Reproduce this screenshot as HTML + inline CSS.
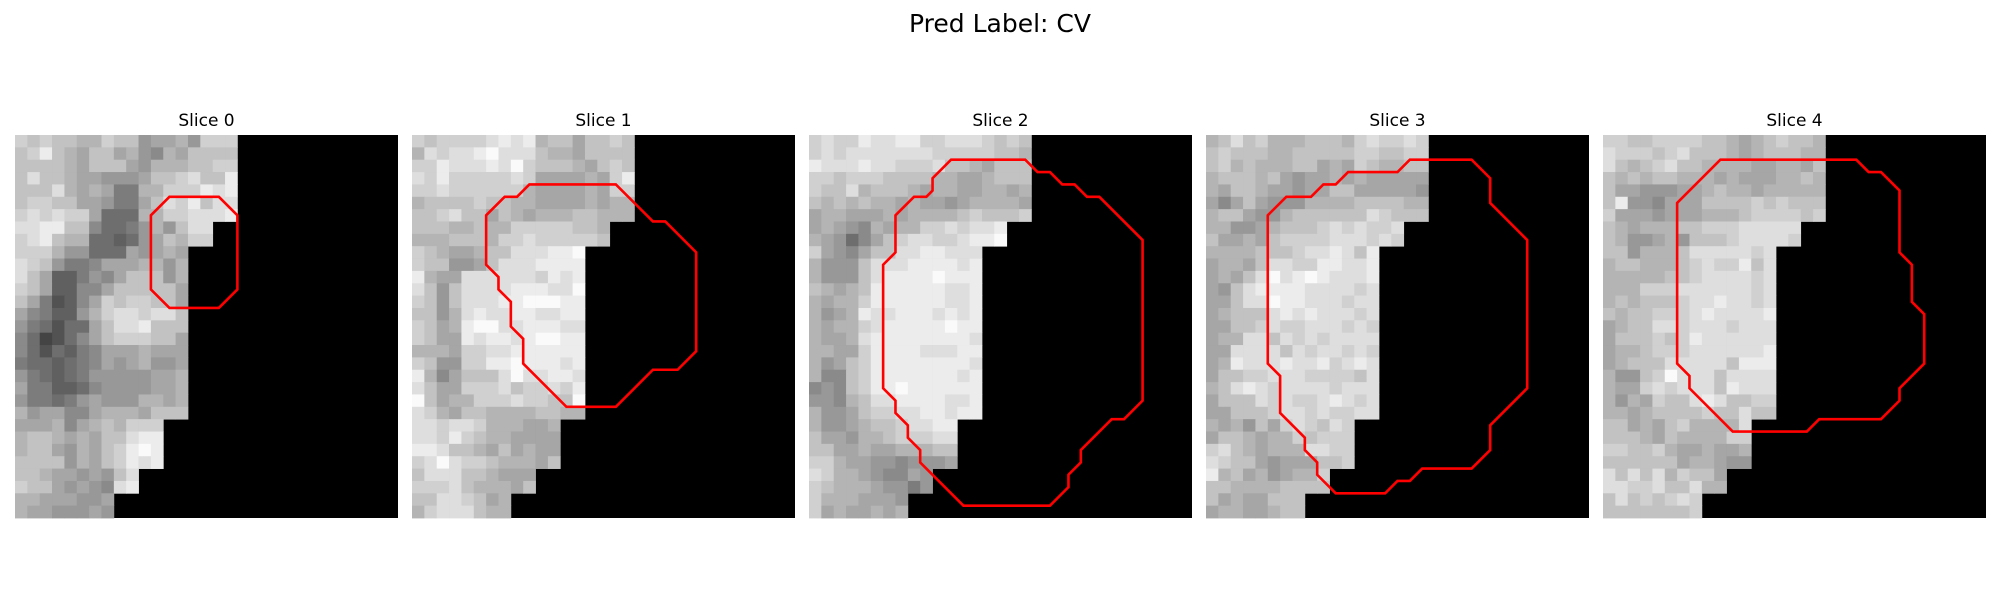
<!DOCTYPE html>
<html><head><meta charset="utf-8">
<style>
html,body{margin:0;padding:0;background:#fff;}
svg{display:block;}
text{font-family:"DejaVu Sans","Liberation Sans",sans-serif;fill:#000;}
</style></head>
<body>
<svg id="fig" width="2000" height="600" viewBox="0 0 2000 600" xmlns="http://www.w3.org/2000/svg">
<rect width="2000" height="600" fill="#fff"/>
<text x="1000" y="32" font-size="25" text-anchor="middle">Pred Label: CV</text>
</svg>
<script>
// Slice titles
const sliceLabels = ["Slice 0","Slice 1","Slice 2","Slice 3","Slice 4"];
// number of non-black columns per row (shared mask)
const maskCols = [18,18,18,18,18,18,18,16,16,14,14,14,14,14,14,14,14,14,14,14,14,14,14,12,12,12,12,10,10,8,8];
// intensity per cell, hex digit 0..f per row
const slice0 = ["cbcbbaacbb899a8ccc","bceba9bb9a87a9bbbb","bbbba9bbb98aaabbcc","bdbba998889bbcdbbe","bbbda9a966aacccede","bccbb998669bdcebdd","cdcdcc9555aaccddde","ddeebb75568a8bdd","cdebaa554589bacc","ccca88555989a9","dcb8667999aa8a","db9446879bbb8a","cb944779bbbbb9","b963479cbccbb9","976448acddcddb","8653559bddebbb","7523579bcccbb9","7535467999a999","6554567989a889","8654568888899a","9664457888899a","8665689888aa9a","a899779aaa9bbb","999a79abaccc","abba9a9bbdee","abb98a9bcefe","bbbb8a9bcede","bba99898bd","cbb98987de","aa999889","a9988898"];
const slice1 = ["cbccccdedeabb9bbcb","adcddefdddbaa9bbbb","ccedddedfcbbba9bcb","dcecccccdc9999a9ce","ccdcccccca9999a9cc","abbbbcbbaa9999a9aa","bbcdbb9ba9aaabbaaa","bbbaabaacccccbba","aaabbbaccdcccccb","cba99abbdddeef","cbb889bdddeeee","ea99ddddddcede","db8bddddeeeddf","cb8bdddeefffee","bb8adeddeeddee","cb9aeffddeeedd","cb99edeedeffee","aaa9ccddeeeeee","cb88cceefeeede","ea79bbbdfddeed","db99cccdbccdce","fb9aacccdccbbf","dca9bbaaaabbaa","ddcddcaaa99a","ddcecbaa9999","eedbba9b9a99","cdfdccbaaa9b","bdddbba999","cccdbaaa9b","bbddcb9a","acdddbaa"];
const slice2 = ["cdcceddeeccdddcbcb","cdcdddddddcccccbba","edddeddcccdbba9bbb","ccbcccbbbbaa99abbb","cbbdabbba9aa99aa9a","bababaa9a9989aaaa9","9aa999a9aaaabcbbbc","9a987a9aaccdcdde","a98579bcddccdeef","c9879bbddeeddd","a888bdddeeeede","a888bdeeeefeee","ba9abeeeeeedde","a9aaceeeeeedde","a89aeddeeedede","a9aacdeeeeefee","a99adeeeeeeeed","aa99ceeeedddee","a89bceeeeeeeed","a77bceeeeeeede","787bceefeeeeee","887abddeeeedde","a889bccddeedee","a889abbcddee","b998aabcccdd","bb99a99aaabb","cca998878889","dcaa987798","cbaaa98868","caaa9998","c9a99a9a"];
const slice3 = ["abdbcaaabbbacdccdc","bcbbbaabbbbbccbbcc","bcabaaabb9a9cbaabb","abbbab9899a9a99999","a9bba99899bb999998","979b9888aaaabbbbaa","abb988abbbbbbdcbbb","aa889abbbcdcdccd","b99a9bccccdddcdc","aaaabbbcddedbe","9aa9bddcceedde","9a9bdfdefeddde","98bdeeeeddddcd","99bddfeedddcdd","9abbbdededddcd","99bbcdccdddcdc","9aaddbdcdcdddd","99ddddbdcddcdc","9aedddeddecded","9bbccdddccccbd","abdedcddddcddd","9bbbdcdccdedcd","99bbbcddcdccdd","a9a8b9cdcbdc","9bba9aacbccc","cdba9aaaddcc","dcbb98999bbc","eab9a89aac","bbaaaabbbb","b9a99bbb","9aa99abb"];
const slice4 = ["ccbbccccbba9abcbba","dcccbcdbbba9abbbaa","dbabcdbbaaaa99aa9b","bababbaaa9a999aaba","b9988899abaa9aaaaa","be887999bbbbcbcbbb","c9998999aaabccccbc","ba9aaabbcccddddd","ba889a8bbbcddddc","bb8aaabdddddcd","abbaaabcdccebd","aaaaabbcddddcd","aaacccddddddcd","ababbbcddeddcd","babbcccdedddde","9abbddcdddcddd","9bbbcbcedddddd","9aabcccdddddde","9abbbdddddbeee","a88bcfdddbdddd","a99cdcdddbeddd","a8a9cbbdedbbcc","aa9abbbbcbbdbb","bb9a9bcaaaad","bbba9baaaacc","ccbbca99a99a","bbbbbb9aa988","dbdbdacbb9","ddccdbbdaa","bdbcbcdc","bbbbbbbc"];
const slices = [slice0, slice1, slice2, slice3, slice4];
// contour vertices in grid-corner units (x, y)
const contour0 = [[12.5,5],[16.5,5],[18,6.5],[18,12.5],[16.5,14],[12.5,14],[11,12.5],[11,6.5]];
const contour1 = [[9.5,4],[16.5,4],[19.5,7],[20.5,7],[23,9.5],[23,17.5],[21.5,19],[19.5,19],[16.5,22],[12.5,22],[9,18.5],[9,16.5],[8,15.5],[8,13.5],[7,12.5],[7,11.5],[6,10.5],[6,6.5],[7.5,5],[8.5,5]];
const contour2 = [[11.5,2],[17.5,2],[18.5,3],[19.5,3],[20.5,4],[21.5,4],[22.5,5],[23.5,5],[27,8.5],[27,21.5],[25.5,23],[24.5,23],[22,25.5],[22,26.5],[21,27.5],[21,28.5],[19.5,30],[12.5,30],[9,26.5],[9,25.5],[8,24.5],[8,23.5],[7,22.5],[7,21.5],[6,20.5],[6,10.5],[7,9.5],[7,6.5],[8.5,5],[9.5,5],[10,4.5],[10,3.5]];
const contour3 = [[16.5,2],[21.5,2],[23,3.5],[23,5.5],[26,8.5],[26,20.5],[23,23.5],[23,25.5],[21.5,27],[17.5,27],[16.5,28],[15.5,28],[14.5,29],[10.5,29],[9,27.5],[9,26.5],[8,25.5],[8,24.5],[6,22.5],[6,19.5],[5,18.5],[5,6.5],[6.5,5],[8.5,5],[9.5,4],[10.5,4],[11.5,3],[15.5,3]];
const contour4 = [[9.5,2],[20.5,2],[21.5,3],[22.5,3],[24,4.5],[24,9.5],[25,10.5],[25,13.5],[26,14.5],[26,18.5],[24,20.5],[24,21.5],[22.5,23],[17.5,23],[16.5,24],[10.5,24],[7,20.5],[7,19.5],[6,18.5],[6,5.5]];
const contours = [contour0, contour1, contour2, contour3, contour4];

const NS = "http://www.w3.org/2000/svg";
const svg = document.getElementById("fig");
const panelX = [15, 412, 809, 1206, 1603];
const panelY = 135, panelSize = 383, N = 31;
const cell = panelSize / N;
function gx(p, c){ return panelX[p] + c * cell; }
function gy(r){ return panelY + r * cell; }
function grayOf(d){ const v = Math.round(40 + d * 14); return `rgb(${v},${v},${v})`; }

slices.forEach((rows, p) => {
  const g = document.createElementNS(NS, "g");
  
  
  svg.appendChild(g);
  const bg = document.createElementNS(NS, "rect");
  
  
  bg.setAttribute("x", gx(p,0)); bg.setAttribute("y", gy(0));
  bg.setAttribute("width", panelSize); bg.setAttribute("height", panelSize);
  bg.setAttribute("fill", "#000");
  g.appendChild(bg);
  for (let r = 0; r < N; r++) {
    const s = rows[r] || "";
    for (let c = 0; c < maskCols[r]; c++) {
      const ch = s[c] !== undefined ? s[c] : (s[s.length-1] || "a");
      const d = parseInt(ch, 16);
      const x0 = gx(p,c), x1 = gx(p,c+1), y0 = gy(r), y1 = gy(r+1);
      const rc = document.createElementNS(NS, "rect");
      
      
      rc.setAttribute("x", x0.toFixed(2)); rc.setAttribute("y", y0.toFixed(2));
      rc.setAttribute("width", (x1-x0+0.4).toFixed(2)); rc.setAttribute("height", (y1-y0+0.4).toFixed(2));
      rc.setAttribute("fill", grayOf(d));
      g.appendChild(rc);
    }
  }
  const pts = contours[p].map(([x,y]) => gx(p,x).toFixed(2) + "," + gy(y).toFixed(2)).join(" ");
  const pg = document.createElementNS(NS, "polygon");
  
  
  pg.setAttribute("points", pts);
  pg.setAttribute("fill", "none");
  pg.setAttribute("stroke", "#ff0000");
  pg.setAttribute("stroke-width", "2.6");
  pg.setAttribute("stroke-linejoin", "miter");
  g.appendChild(pg);
  const t = document.createElementNS(NS, "text");
  
  
  t.setAttribute("x", (panelX[p] + panelSize/2).toFixed(1));
  t.setAttribute("y", "126");
  t.setAttribute("font-size", "17");
  t.setAttribute("text-anchor", "middle");
  t.textContent = sliceLabels[p];
  g.appendChild(t);
});
</script>
</body></html>
